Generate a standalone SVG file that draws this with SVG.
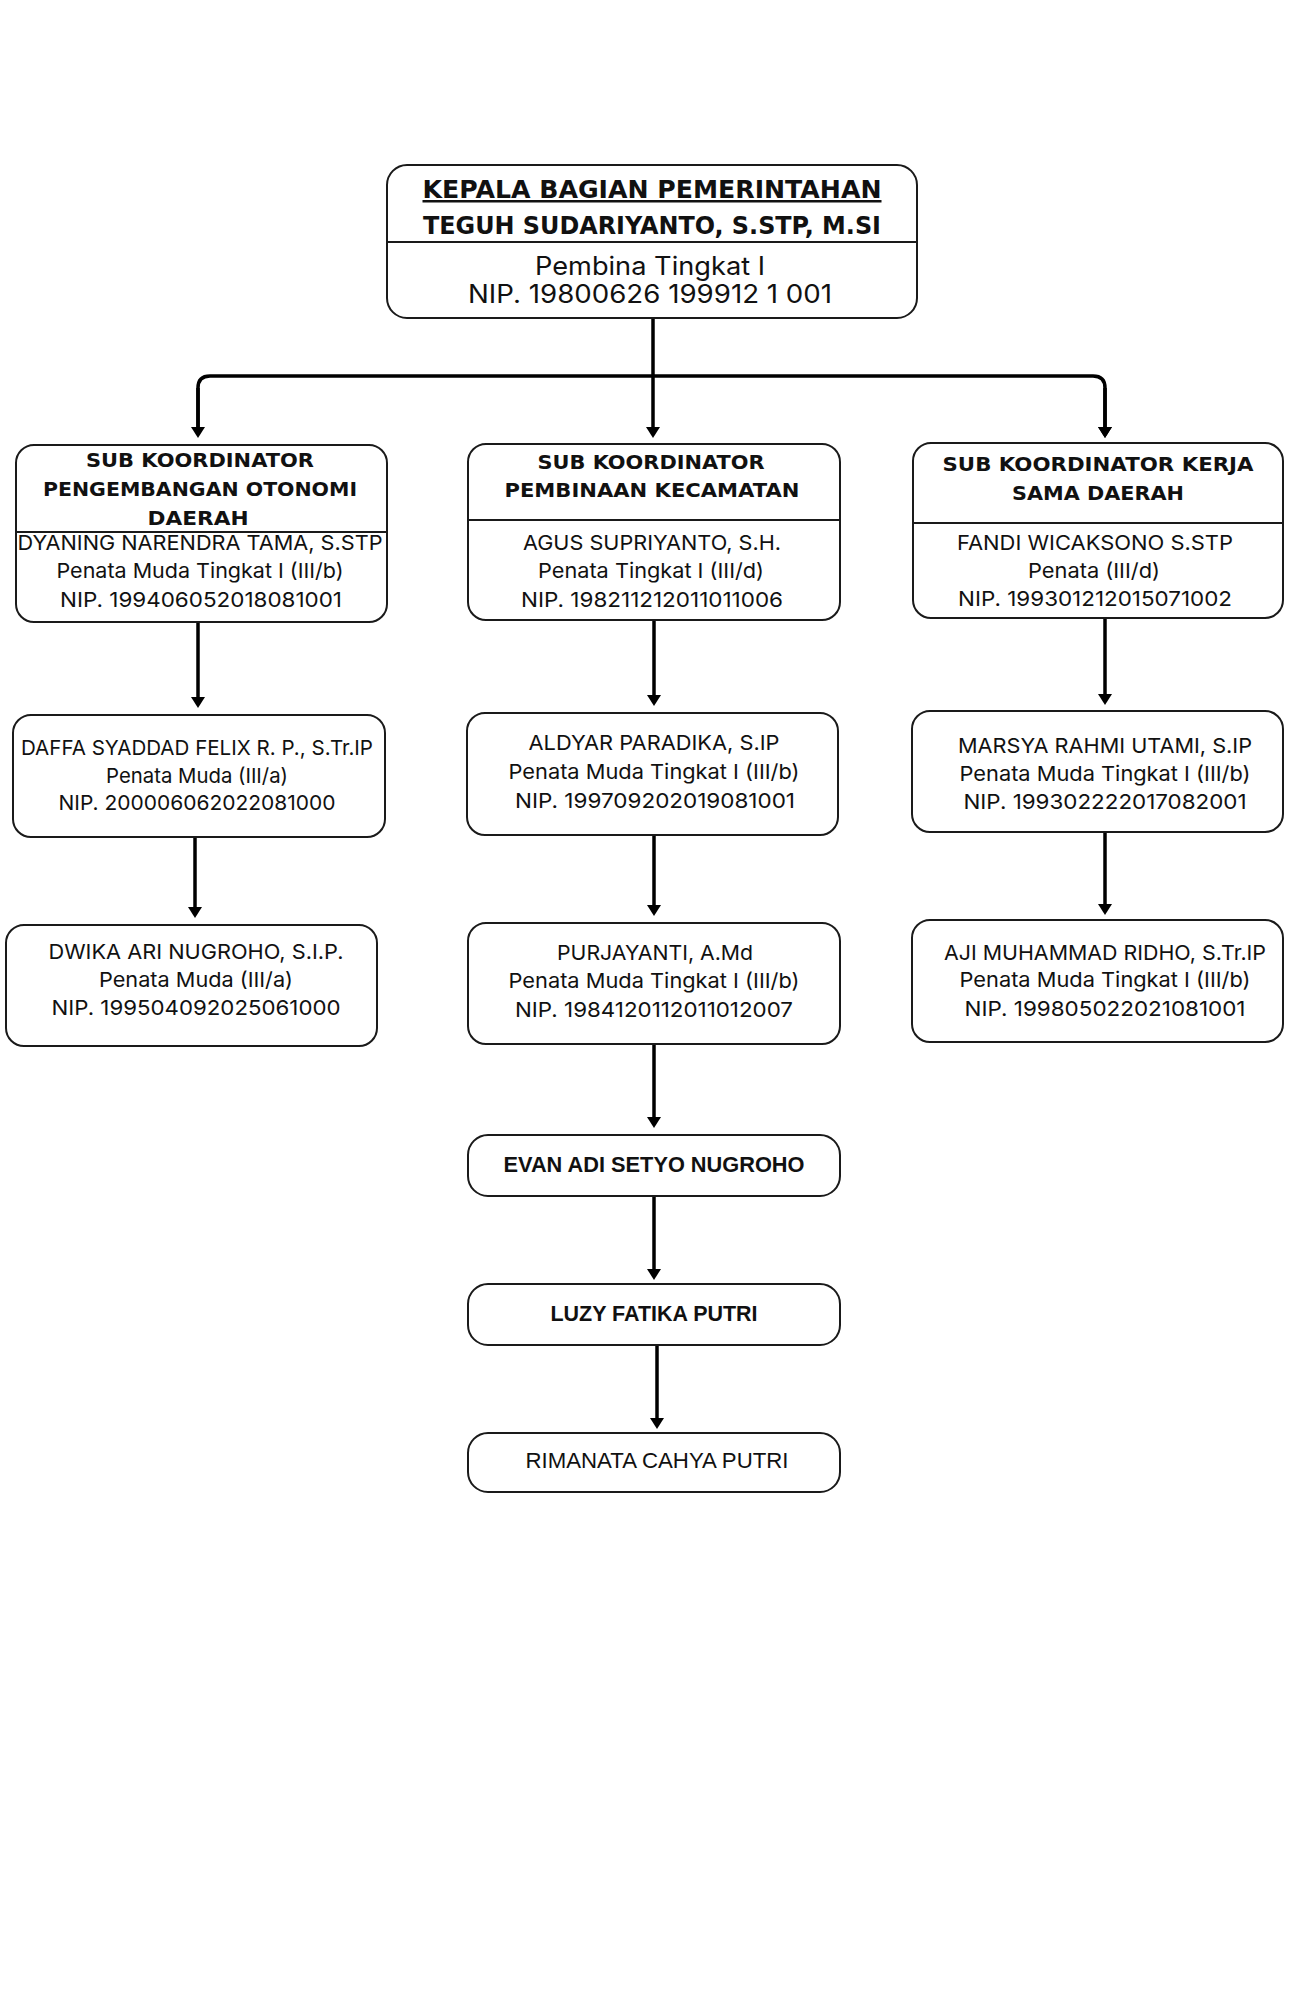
<svg xmlns="http://www.w3.org/2000/svg" width="1303" height="2000" viewBox="0 0 1303 2000">
<style>
.box{fill:#fff;stroke:#1a1a1a;stroke-width:2}
.sep{stroke:#1a1a1a;stroke-width:2}
.hb{font-family:"DejaVu Sans","Liberation Sans",sans-serif;font-weight:bold;fill:#111;text-anchor:middle}
.t{font-family:Inter,"Liberation Sans",sans-serif;fill:#111;text-anchor:middle;font-size:20.5px}
.a{font-family:"Liberation Sans",Arial,sans-serif;fill:#111;text-anchor:middle;font-size:21.5px}
.conn{fill:none;stroke:#000;stroke-width:3.5}
</style>
<defs>
<marker id="arr" markerUnits="userSpaceOnUse" markerWidth="11" markerHeight="14" viewBox="0 0 11 14" refX="3" refY="7" orient="auto">
<path d="M0,0 L11,7 L0,14 Z" fill="#000"/>
</marker>
</defs>
<rect width="1303" height="2000" fill="#fff"/>

<g id="connectors">
<path class="conn" d="M653,318 V430" marker-end="url(#arr)"/>
<path class="conn" d="M198,430 V388 Q198,376 210,376 H1093 Q1105,376 1105,388 V430" marker-end="url(#arr)"/>
<path class="conn" d="M1105,388 V430" marker-end="url(#arr)"/>
<path class="conn" d="M198,388 V430" marker-end="url(#arr)"/>
<path class="conn" d="M198,622 V700" marker-end="url(#arr)"/>
<path class="conn" d="M195,837 V910" marker-end="url(#arr)"/>
<path class="conn" d="M654,620 V698" marker-end="url(#arr)"/>
<path class="conn" d="M654,835 V908" marker-end="url(#arr)"/>
<path class="conn" d="M654,1044 V1120" marker-end="url(#arr)"/>
<path class="conn" d="M654,1196 V1272" marker-end="url(#arr)"/>
<path class="conn" d="M657,1345 V1421" marker-end="url(#arr)"/>
<path class="conn" d="M1105,618 V697" marker-end="url(#arr)"/>
<path class="conn" d="M1105,832 V907" marker-end="url(#arr)"/>
</g>

<g id="kepala">
<rect class="box" x="387" y="165" width="530" height="153" rx="20"/>
<line class="sep" x1="387" y1="242" x2="917" y2="242"/>
<text class="hb" x="652" y="198" font-size="25" textLength="459" lengthAdjust="spacingAndGlyphs" text-decoration="underline">KEPALA BAGIAN PEMERINTAHAN</text>
<text class="hb" x="652" y="234" font-size="24.5" textLength="458" lengthAdjust="spacingAndGlyphs">TEGUH SUDARIYANTO, S.STP, M.SI</text>
<text class="t" x="650" y="275" style="font-size:25.5px" textLength="230" lengthAdjust="spacingAndGlyphs">Pembina Tingkat I</text>
<text class="t" x="650" y="303" style="font-size:25.5px" textLength="364" lengthAdjust="spacingAndGlyphs">NIP. 19800626 199912 1 001</text>
</g>

<g id="sub-otonomi">
<rect class="box" x="16" y="445" width="371" height="177" rx="18"/>
<line class="sep" x1="16" y1="532" x2="387" y2="532"/>
<text class="hb" x="200" y="467" font-size="19.5" textLength="228" lengthAdjust="spacingAndGlyphs">SUB KOORDINATOR</text>
<text class="hb" x="200" y="496" font-size="19.5" textLength="314" lengthAdjust="spacingAndGlyphs">PENGEMBANGAN OTONOMI</text>
<text class="hb" x="198" y="525" font-size="19.5" textLength="101" lengthAdjust="spacingAndGlyphs">DAERAH</text>
<text class="t" x="200" y="550" textLength="365" lengthAdjust="spacingAndGlyphs">DYANING NARENDRA TAMA, S.STP</text>
<text class="t" x="200" y="578" textLength="287" lengthAdjust="spacingAndGlyphs">Penata Muda Tingkat I (III/b)</text>
<text class="t" x="201" y="607" textLength="282" lengthAdjust="spacingAndGlyphs">NIP. 199406052018081001</text>
</g>

<g id="sub-kecamatan">
<rect class="box" x="468" y="444" width="372" height="176" rx="18"/>
<line class="sep" x1="468" y1="520" x2="840" y2="520"/>
<text class="hb" x="651" y="469" font-size="19.5" textLength="227" lengthAdjust="spacingAndGlyphs">SUB KOORDINATOR</text>
<text class="hb" x="652" y="497" font-size="19.5" textLength="295" lengthAdjust="spacingAndGlyphs">PEMBINAAN KECAMATAN</text>
<text class="t" x="652" y="550" textLength="258" lengthAdjust="spacingAndGlyphs">AGUS SUPRIYANTO, S.H.</text>
<text class="t" x="651" y="578" textLength="226" lengthAdjust="spacingAndGlyphs">Penata Tingkat I (III/d)</text>
<text class="t" x="652" y="607" textLength="262" lengthAdjust="spacingAndGlyphs">NIP. 198211212011011006</text>
</g>

<g id="sub-kerjasama">
<rect class="box" x="913" y="443" width="370" height="175" rx="18"/>
<line class="sep" x1="913" y1="523" x2="1283" y2="523"/>
<text class="hb" x="1098" y="471" font-size="19.5" textLength="311" lengthAdjust="spacingAndGlyphs">SUB KOORDINATOR KERJA</text>
<text class="hb" x="1098" y="500" font-size="19.5" textLength="172" lengthAdjust="spacingAndGlyphs">SAMA DAERAH</text>
<text class="t" x="1095" y="550" textLength="276" lengthAdjust="spacingAndGlyphs">FANDI WICAKSONO S.STP</text>
<text class="t" x="1094" y="578" textLength="132" lengthAdjust="spacingAndGlyphs">Penata (III/d)</text>
<text class="t" x="1095" y="606" textLength="274" lengthAdjust="spacingAndGlyphs">NIP. 199301212015071002</text>
</g>

<g id="daffa">
<rect class="box" x="13" y="715" width="372" height="122" rx="18"/>
<text class="t" x="197" y="755" textLength="352" lengthAdjust="spacingAndGlyphs">DAFFA SYADDAD FELIX R. P., S.Tr.IP</text>
<text class="t" x="197" y="783" textLength="182" lengthAdjust="spacingAndGlyphs">Penata Muda (III/a)</text>
<text class="t" x="197" y="810" textLength="277" lengthAdjust="spacingAndGlyphs">NIP. 200006062022081000</text>
</g>

<g id="dwika">
<rect class="box" x="6" y="925" width="371" height="121" rx="18"/>
<text class="t" x="196" y="959" textLength="295" lengthAdjust="spacingAndGlyphs">DWIKA ARI NUGROHO, S.I.P.</text>
<text class="t" x="196" y="987" textLength="194" lengthAdjust="spacingAndGlyphs">Penata Muda (III/a)</text>
<text class="t" x="196" y="1015" textLength="289" lengthAdjust="spacingAndGlyphs">NIP. 199504092025061000</text>
</g>

<g id="aldyar">
<rect class="box" x="467" y="713" width="371" height="122" rx="18"/>
<text class="t" x="654" y="750" textLength="251" lengthAdjust="spacingAndGlyphs">ALDYAR PARADIKA, S.IP</text>
<text class="t" x="654" y="779" textLength="291" lengthAdjust="spacingAndGlyphs">Penata Muda Tingkat I (III/b)</text>
<text class="t" x="655" y="808" textLength="280" lengthAdjust="spacingAndGlyphs">NIP. 199709202019081001</text>
</g>

<g id="purjayanti">
<rect class="box" x="468" y="923" width="372" height="121" rx="18"/>
<text class="t" x="655" y="960" textLength="196" lengthAdjust="spacingAndGlyphs">PURJAYANTI, A.Md</text>
<text class="t" x="654" y="988" textLength="291" lengthAdjust="spacingAndGlyphs">Penata Muda Tingkat I (III/b)</text>
<text class="t" x="654" y="1017" textLength="278" lengthAdjust="spacingAndGlyphs">NIP. 198412011201101​2007</text>
</g>

<g id="marsya">
<rect class="box" x="912" y="711" width="371" height="121" rx="18"/>
<text class="t" x="1105" y="753" textLength="294" lengthAdjust="spacingAndGlyphs">MARSYA RAHMI UTAMI, S.IP</text>
<text class="t" x="1105" y="781" textLength="291" lengthAdjust="spacingAndGlyphs">Penata Muda Tingkat I (III/b)</text>
<text class="t" x="1105" y="809" textLength="283" lengthAdjust="spacingAndGlyphs">NIP. 199302222017082001</text>
</g>

<g id="aji">
<rect class="box" x="912" y="920" width="371" height="122" rx="18"/>
<text class="t" x="1105" y="960" textLength="322" lengthAdjust="spacingAndGlyphs">AJI MUHAMMAD RIDHO, S.Tr.IP</text>
<text class="t" x="1105" y="987" textLength="291" lengthAdjust="spacingAndGlyphs">Penata Muda Tingkat I (III/b)</text>
<text class="t" x="1105" y="1016" textLength="281" lengthAdjust="spacingAndGlyphs">NIP. 199805022021081001</text>
</g>

<g id="evan">
<rect class="box" x="468" y="1135" width="372" height="61" rx="20"/>
<text class="a" x="654" y="1172" font-weight="bold" textLength="301" lengthAdjust="spacingAndGlyphs">EVAN ADI SETYO NUGROHO</text>
</g>

<g id="luzy">
<rect class="box" x="468" y="1284" width="372" height="61" rx="20"/>
<text class="a" x="654" y="1321" font-weight="bold" textLength="207" lengthAdjust="spacingAndGlyphs">LUZY FATIKA PUTRI</text>
</g>

<g id="rimanata">
<rect class="box" x="468" y="1433" width="372" height="59" rx="20"/>
<text class="a" x="657" y="1468" textLength="263" lengthAdjust="spacingAndGlyphs">RIMANATA CAHYA PUTRI</text>
</g>
</svg>
